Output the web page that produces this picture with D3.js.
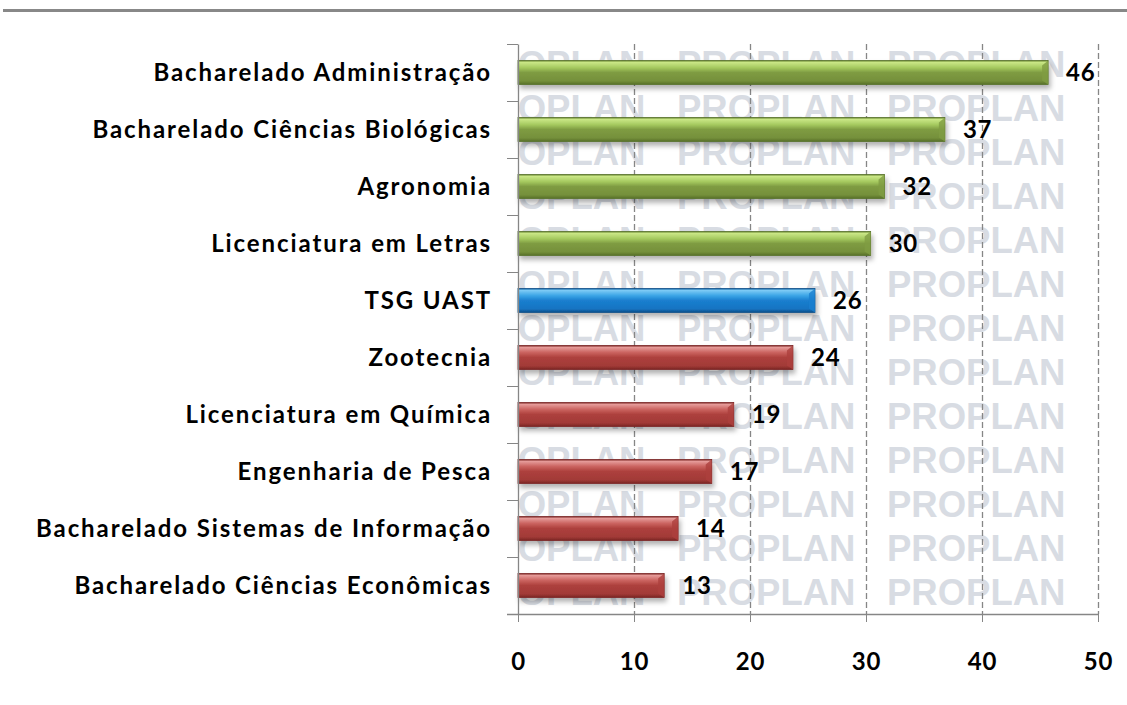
<!DOCTYPE html>
<html>
<head>
<meta charset="utf-8">
<script src="https://cdn.jsdelivr.net/npm/d3@7"></script>
<style>
  body { margin: 0; background: #fff; }
  svg { display: block; }
</style>
</head>
<body>
<div id="chart"></div>
<script>
// Courses, top to bottom, with the bar value and the colour group of each bar.
const categories = [
    "Bacharelado Administração",
    "Bacharelado Ciências Biológicas",
    "Agronomia",
    "Licenciatura em Letras",
    "TSG UAST",
    "Zootecnia",
    "Licenciatura em Química",
    "Engenharia de Pesca",
    "Bacharelado Sistemas de Informação",
    "Bacharelado Ciências Econômicas"
];
const values = [45.7, 36.8, 31.6, 30.4, 25.6, 23.7, 18.6, 16.7, 13.8, 12.6];
const groups = ["acima", "acima", "acima", "acima", "uast", "abaixo", "abaixo", "abaixo", "abaixo", "abaixo"];
const xTicks = [0, 10, 20, 30, 40, 50];

const data = categories.map((c, i) => ({ category: c, value: values[i], group: groups[i] }));

// Chart dimensions and margins.
const width = 1127;
const height = 705;
const marginTop = 44;
const marginBottom = 91;   // axis at y = 614
const marginLeft = 518;
const marginRight = 29;    // 50 at x = 1098

const graph = d3.select("#chart").append("svg")
    .attr("width", width)
    .attr("height", height);

const defs = graph.append("defs");

// Bar gradients (a rough copy of the Excel bevel look).
const palette = {
    acima:  ["#6a8734", "#c9e685", "#a5c95f", "#7f9c42", "#75903b", "#56702a"],
    uast:   ["#0f5f9e", "#7ccaf5", "#3aa4e6", "#1a7fcf", "#1574c2", "#0d4f88"],
    abaixo: ["#7e2a28", "#e59a98", "#c9605d", "#ad403d", "#a23a37", "#7a2523"]
};
const stops = [0, 0.08, 0.3, 0.5, 0.85, 1];
for (const key of Object.keys(palette)) {
    const g = defs.append("linearGradient")
        .attr("id", "grad-" + key)
        .attr("x1", 0).attr("y1", 0).attr("x2", 0).attr("y2", 1);
    palette[key].forEach((col, i) => {
        g.append("stop").attr("offset", stops[i]).attr("stop-color", col);
    });
}

const shadow = defs.append("filter")
    .attr("id", "shadow")
    .attr("x", "-5%").attr("y", "-30%").attr("width", "115%").attr("height", "180%");
shadow.append("feDropShadow")
    .attr("dx", 2).attr("dy", 4).attr("stdDeviation", 2.5)
    .attr("flood-color", "#000").attr("flood-opacity", 0.3);

defs.append("clipPath").attr("id", "plot-clip")
    .append("rect")
    .attr("x", marginLeft)
    .attr("y", marginTop)
    .attr("width", width - marginLeft - marginRight)
    .attr("height", height - marginTop - marginBottom);

// Scales.
const xscale = d3.scaleLinear()
    .domain([0, 50])
    .range([marginLeft, width - marginRight]);

const yscale = d3.scaleBand()
    .domain(categories)
    .range([marginTop, height - marginBottom])
    .paddingInner(0.58)
    .paddingOuter(0.29);

// Grey rule across the top of the slide.
graph.append("rect")
    .attr("x", 3).attr("y", 9)
    .attr("width", width - 3).attr("height", 3)
    .attr("fill", "#888888");

// Watermark behind the plot.
const wm = graph.append("g").attr("clip-path", "url(#plot-clip)");
for (let r = 0; r < 13; r++) {
    for (let c = 0; c < 3; c++) {
        wm.append("text")
            .attr("x", 467 + c * 210)
            .attr("y", 77 + r * 44)
            .attr("font-family", "Liberation Sans, Arial, sans-serif")
            .attr("font-weight", "bold")
            .attr("font-size", 36.5)
            .attr("fill", "#d8dce3")
            .text("PROPLAN");
    }
}

// Vertical dashed gridlines.
graph.append("g")
    .selectAll("line")
    .data(xTicks.filter(d => d > 0))
    .join("line")
    .attr("x1", d => Math.round(xscale(d)) + 0.5)
    .attr("x2", d => Math.round(xscale(d)) + 0.5)
    .attr("y1", marginTop)
    .attr("y2", height - marginBottom)
    .attr("stroke", "#868686")
    .attr("stroke-width", 1.3)
    .attr("stroke-dasharray", "6,3");

// Bars.
const bars = graph.append("g");
bars.selectAll("rect")
    .data(data)
    .join("rect")
    .attr("x", xscale(0))
    .attr("y", d => yscale(d.category))
    .attr("width", d => xscale(d.value) - xscale(0))
    .attr("height", yscale.bandwidth())
    .attr("fill", d => `url(#grad-${d.group})`)
    .attr("stroke", d => palette[d.group][5])
    .attr("stroke-width", 0.8)
    .attr("filter", "url(#shadow)");

// Bevelled right end of each bar.
bars.selectAll("path")
    .data(data)
    .join("path")
    .attr("d", d => {
        const x1 = xscale(d.value), y0 = yscale(d.category), h = yscale.bandwidth();
        return `M${x1},${y0} L${x1 - 6},${y0 + 5} L${x1 - 6},${y0 + h - 4} L${x1},${y0 + h} Z`;
    })
    .attr("fill", d => palette[d.group][3])
    .attr("opacity", 0.8);

// Value labels.
graph.append("g")
    .selectAll("text")
    .data(data)
    .join("text")
    .attr("x", d => xscale(d.value) + 18)
    .attr("y", d => yscale(d.category) + yscale.bandwidth() / 2)
    .attr("dy", "0.36em")
    .attr("font-family", "Lato, sans-serif")
    .attr("font-weight", "bold")
    .attr("font-size", 24)
    .attr("letter-spacing", 0.8)
    .attr("fill", "#000")
    .text(d => Math.round(d.value));

// Axes.
const xAxis = graph.append("g")
    .attr("transform", `translate(0, ${height - marginBottom})`)
    .call(d3.axisBottom(xscale).tickValues(xTicks).tickSize(8).tickPadding(31).tickSizeOuter(0));
xAxis.select(".domain").attr("d", `M${marginLeft - 11},0.5H${width - marginRight}`);

const yAxis = graph.append("g")
    .attr("transform", `translate(${marginLeft}, 0)`)
    .call(d3.axisLeft(yscale).tickSize(0).tickPadding(26));

// Category separators on the y axis.
yAxis.selectAll(".sep")
    .data(categories.concat([null]))
    .join("line")
    .attr("class", "sep")
    .attr("x1", -11).attr("x2", 0)
    .attr("y1", (d, i) => Math.round(marginTop + i * (height - marginTop - marginBottom) / categories.length) + 0.5)
    .attr("y2", (d, i) => Math.round(marginTop + i * (height - marginTop - marginBottom) / categories.length) + 0.5)
    .attr("stroke", "#868686");

for (const ax of [xAxis, yAxis]) {
    ax.select(".domain").attr("stroke", "#868686").attr("stroke-width", 1.3);
    ax.selectAll(".tick line").attr("stroke", "#868686");
    ax.selectAll("text")
        .attr("font-family", "Lato, sans-serif")
        .attr("font-weight", "bold")
        .attr("font-size", 24)
        .attr("fill", "#000");
}
yAxis.selectAll(".tick text").attr("dy", "0.34em").attr("letter-spacing", 1.9);
xAxis.selectAll(".tick text").attr("letter-spacing", 0.8);
</script>
</body>
</html>
